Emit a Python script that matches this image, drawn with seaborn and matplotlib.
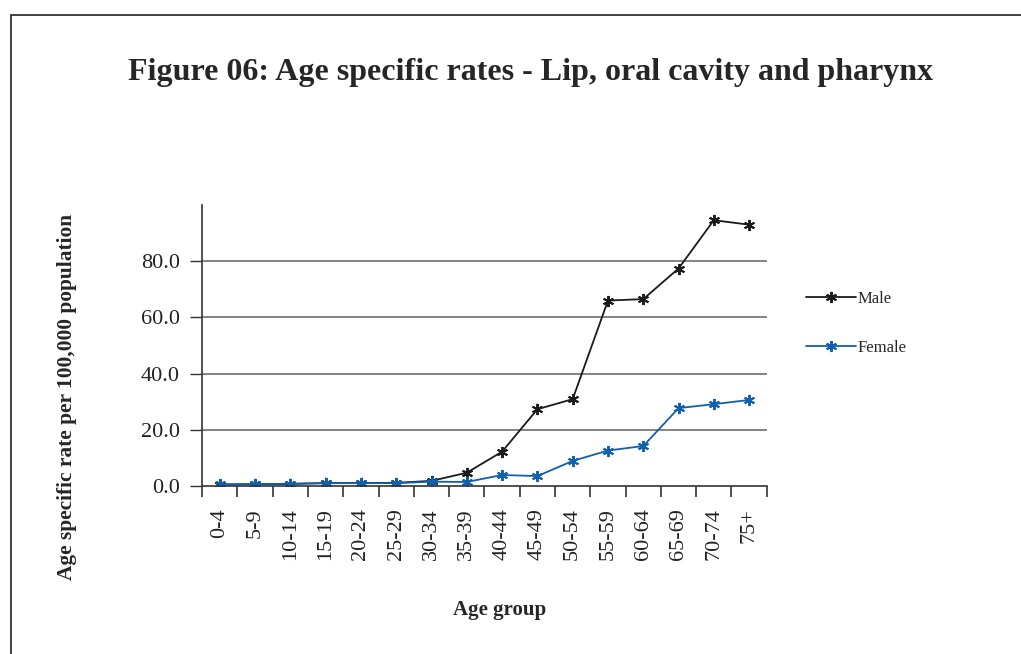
import pandas as pd
import matplotlib
matplotlib.use("Agg")
import matplotlib.pyplot as plt
import seaborn as sns
from matplotlib.patches import Rectangle
from matplotlib.lines import Line2D

age_groups = ["0-4", "5-9", "10-14", "15-19", "20-24", "25-29", "30-34", "35-39",
              "40-44", "45-49", "50-54", "55-59", "60-64", "65-69", "70-74", "75+"]
male = [0.5, 0.6, 0.7, 1.0, 1.0, 1.1, 1.8, 4.7, 12.2, 27.3, 30.9, 66.0, 66.5, 77.4, 94.6, 93.0]
female = [0.6, 0.6, 0.8, 1.0, 1.0, 1.0, 1.5, 1.4, 3.9, 3.5, 8.9, 12.6, 14.2, 27.7, 29.1, 30.6]
y_ticks = [0, 20, 40, 60, 80]

df = pd.DataFrame({
    "Age group": age_groups * 2,
    "pos": list(range(len(age_groups))) * 2,
    "rate": male + female,
    "sex": ["Male"] * len(age_groups) + ["Female"] * len(age_groups),
})
colors = {"Male": "#1a1a1a", "Female": "#1060b0"}

sns.set_theme(style="white")
plt.rcParams["font.family"] = ["Liberation Serif", "DejaVu Serif"]

fig = plt.figure(figsize=(10.21, 6.54), dpi=100)
ax = fig.add_axes([0.198, 0.257, 0.553, 0.4295])

star = (6, 2, 0)
sns.lineplot(data=df, x="pos", y="rate", hue="sex", palette=colors,
             marker=star, markersize=8, linewidth=1.3, ax=ax, legend=False)
for ln in ax.lines:
    ln.set_markeredgecolor(ln.get_color())
    ln.set_markeredgewidth(1.4)

ax.set_xlim(-0.5, len(age_groups) - 0.5)
ax.set_ylim(0, 100)
ax.set_yticks(y_ticks)
ax.set_yticklabels([f"{v:.1f}" for v in y_ticks], fontsize=16, color="#222222")
ax.set_xticks(range(len(age_groups)))
ax.set_xticklabels(age_groups, rotation=90, fontsize=16, color="#222222")
ax.tick_params(axis="x", length=0, pad=16)
ax.set_xticks([i - 0.5 for i in range(len(age_groups) + 1)], minor=True)
ax.tick_params(axis="x", which="minor", length=8, width=1.2, color="#333333", direction="out", bottom=True)
ax.tick_params(axis="y", length=9, width=1.0, color="#333333", direction="out", left=True, pad=7)

for v in y_ticks[1:]:
    ax.axhline(v, color="#6e6e6e", linewidth=1.2, zorder=0)

for s in ["top", "right"]:
    ax.spines[s].set_visible(False)
for s in ["left", "bottom"]:
    ax.spines[s].set_color("#333333")
    ax.spines[s].set_linewidth(1.2)

ax.set_xlabel("Age group", fontsize=15, fontweight="bold")
ax.set_ylabel("Age specific rate per 100,000 population", fontsize=15.4, fontweight="bold")
ax.xaxis.set_label_coords(0.527, -0.405)
ax.yaxis.set_label_coords(-0.221, 0.317)

handles = [Line2D([], [], color=colors[k], marker=star, markersize=8, markeredgewidth=1.4,
                  markeredgecolor=colors[k], linewidth=1.3) for k in ["Male", "Female"]]
fig.legend(handles, ["Male", "Female"], loc="upper left", bbox_to_anchor=(0.775, 0.578),
           frameon=False, fontsize=12, handlelength=3.0, handletextpad=0.1, labelspacing=2.0)

fig.suptitle("Figure 06: Age specific rates - Lip, oral cavity and pharynx",
             fontsize=23, fontweight="bold", x=0.52, y=0.889, va="center")

fig.patches.append(Rectangle((11 / 1021, -0.1), 1.2, (654 - 15) / 654 + 0.1,
                             transform=fig.transFigure, fill=False, edgecolor="#333333", linewidth=1.3))

fig.savefig("out.png", dpi=100, facecolor="white")
